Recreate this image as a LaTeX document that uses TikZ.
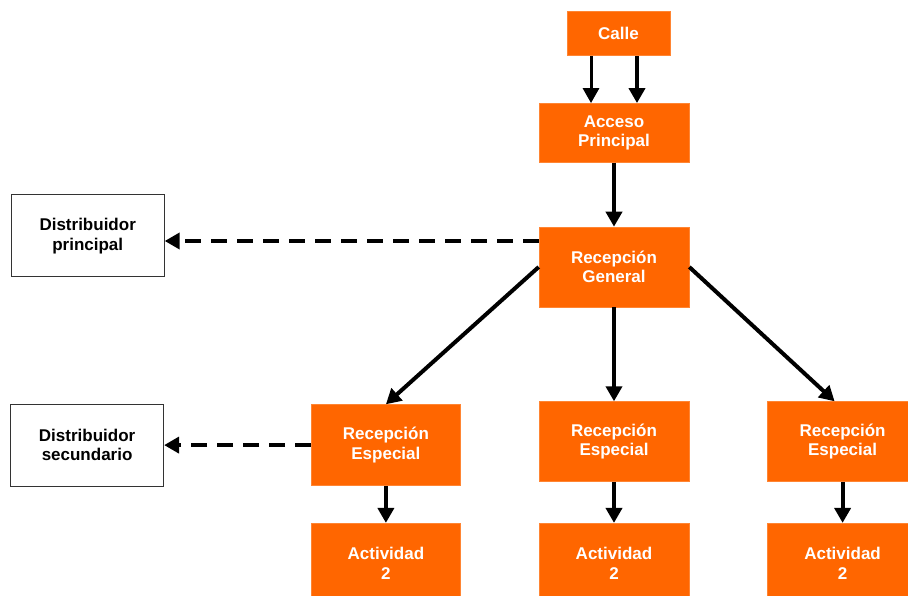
\documentclass[tikz,border=0pt]{standalone}
\usepackage{fontspec}
\setmainfont{Liberation Sans}
\usetikzlibrary{arrows.meta,positioning}
\definecolor{RecOrange}{HTML}{FF6600}
\definecolor{RecBlack}{HTML}{000000}

\begin{document}
\begin{tikzpicture}[x=1pt,y=1pt,
  zona/.style={fill=RecOrange,draw=RecOrange!80!white,line width=0.6pt,text=white,align=center,minimum width=150pt,minimum height=80pt,inner sep=0pt,font=\bfseries\fontsize{17}{19.5}\selectfont},
  dist/.style={draw=RecBlack!80,fill=white,line width=1pt,align=center,minimum width=153pt,minimum height=82pt,inner sep=0pt,font=\bfseries\fontsize{17}{19.5}\selectfont},
  flecha/.style={draw=RecBlack,line width=4pt,-{Triangle[width=16pt,length=15pt]}},
  rayas/.style={flecha,dash pattern=on 16pt off 10pt}]
  \useasboundingbox (0,0) rectangle (908,-596);
  \node[zona] (rg) at (614,-267) {Recepción\\General};
  \node[zona,above=64pt of rg,minimum height=59pt] (acc) {Acceso\\Principal};
  \node[zona,above=47pt of acc,xshift=4.5pt,minimum width=103pt,minimum height=44pt] (calle) {Calle};
  \node[zona,below=94pt of rg] (re2) {Recepción\\Especial};
  \node[zona,left=78pt of re2,yshift=-3.5pt,minimum width=149pt,minimum height=81pt] (re1) {Recepción\\Especial};
  \node[zona,right=78pt of re2] (re3) {Recepción\\Especial};
  \node[zona,below=37pt of re1,minimum width=149pt] (act1) {Actividad\\2};
  \node[zona,below=41pt of re2] (act2) {Actividad\\2};
  \node[zona,below=41pt of re3] (act3) {Actividad\\2};
  \node[dist,left=374pt of rg,yshift=31pt] (dp) {Distribuidor\\principal};
  \node[dist,left=147pt of re1] (ds) {Distribuidor\\secundario};
  \draw[flecha,line width=3pt] ([xshift=-27.5pt]calle.south) -- ([xshift=-27.5pt]calle.south |- acc.north);
  \draw[flecha] ([xshift=18.5pt]calle.south) -- ([xshift=18.5pt]calle.south |- acc.north);
  \draw[flecha] (acc) -- (rg);
  \draw[flecha] (rg.west) -- (re1.north);
  \draw[flecha] (rg) -- (re2);
  \draw[flecha] (rg.east) -- ([xshift=-8pt]re3.north);
  \draw[rayas] ([yshift=26pt]rg.west) -- ([yshift=26pt]rg.west -| dp.east);
  \draw[rayas] (re1.west) -- (re1.west -| ds.east);
  \foreach \n in {1,2,3}{\draw[flecha] (re\n) -- (act\n);}
\end{tikzpicture}
\end{document}
